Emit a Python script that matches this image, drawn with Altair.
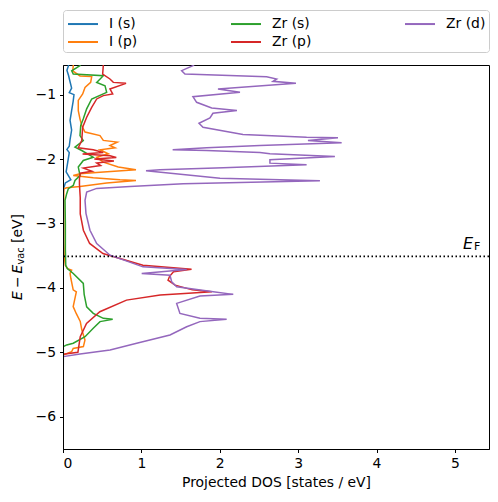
import altair as alt
import pandas as pd

# ---- data (energy in eV relative to vacuum, projected DOS in states/eV) ----
is_E = [-0.50, -0.55, -0.62, -0.70, -0.80, -0.90, -0.97, -1.00, -1.10, -1.25, -1.40, -1.55, -1.70,
        -1.80, -1.85, -1.90, -2.05, -2.20, -2.28, -2.32, -2.37, -2.45, -2.55, -6.60]
is_D = [0.07, 0.07, 0.05, 0.07, 0.09, 0.11, 0.08, 0.14, 0.13, 0.11, 0.09, 0.11, 0.09,
        0.08, 0.05, 0.08, 0.06, 0.04, 0.08, 0.10, 0.03, 0.01, 0.0, 0.0]

ip_E = [-0.50, -0.55, -0.63, -0.71, -0.72, -0.81, -0.89, -0.99, -1.09, -1.25, -1.38, -1.48, -1.58,
        -1.635, -1.71, -1.737, -1.79, -1.825, -1.856, -1.918, -1.971, -2.047, -2.124, -2.164,
        -2.203, -2.228, -2.254, -2.289, -2.320, -2.331, -2.372, -2.424, -2.444, -2.46, -2.7,
        -3.0, -3.3, -3.5, -3.65, -3.70, -3.724, -3.775, -3.85, -4.03, -4.06, -4.29, -4.40,
        -4.52, -4.65, -4.81, -4.91, -4.94, -4.99, -5.04, -6.60]
ip_D = [0.13, 0.131, 0.124, 0.217, 0.366, 0.353, 0.281, 0.251, 0.195, 0.195, 0.217, 0.239, 0.281,
        0.472, 0.514, 0.693, 0.599, 0.663, 0.472, 0.578, 0.430, 0.514, 0.705, 0.931,
        0.472, 0.217, 0.131, 0.386, 0.727, 0.931, 0.557, 0.217, 0.047, 0.01, 0.01,
        0.01, 0.01, 0.015, 0.03, 0.06, 0.11, 0.09, 0.10, 0.13, 0.17, 0.13, 0.17,
        0.22, 0.24, 0.28, 0.26, 0.13, 0.11, 0.0, 0.0]

zs_E = [-0.50, -0.55, -0.63, -0.68, -0.706, -0.81, -0.861, -0.964, -1.067, -1.221, -1.376, -1.48,
        -1.635, -1.712, -1.816, -1.867, -1.971, -2.022, -2.124, -2.254, -2.331, -2.409, -2.46,
        -2.537, -2.641, -3.0, -3.4, -3.65, -3.698, -3.776, -3.93, -4.10, -4.293, -4.395, -4.472,
        -4.488, -4.523, -4.627, -4.757, -4.859, -4.885, -4.91, -6.60]
zs_D = [0.22, 0.217, 0.111, 0.131, 0.514, 0.430, 0.536, 0.557, 0.366, 0.302, 0.259, 0.226,
        0.217, 0.259, 0.153, 0.239, 0.386, 0.259, 0.195, 0.217, 0.153, 0.131, 0.068,
        0.047, 0.026, 0.03, 0.03, 0.035, 0.055, 0.131, 0.259, 0.27, 0.302, 0.386, 0.514,
        0.634, 0.472, 0.386, 0.281, 0.131, 0.047, 0.004, 0.0]

zp_E = [-0.50, -0.55, -0.68, -0.757, -0.81, -0.825, -0.912, -0.989, -1.015, -1.067, -1.197, -1.351,
        -1.506, -1.712, -1.825, -1.856, -1.898, -1.92, -1.95, -1.975, -2.00, -2.03, -2.06, -2.10,
        -2.14, -2.19, -2.22, -2.30, -2.40, -2.60, -2.85, -3.105, -3.31, -3.466, -3.647, -3.709,
        -3.75, -3.82, -3.879, -3.957, -4.03, -4.06, -4.09, -4.111, -4.189, -4.37, -4.55, -4.757,
        -4.96, -5.00, -5.03, -6.60]
zp_D = [0.51, 0.514, 0.506, 0.599, 0.642, 0.804, 0.599, 0.634, 0.514, 0.430, 0.366, 0.302,
        0.251, 0.239, 0.195, 0.386, 0.514, 0.25, 0.60, 0.68, 0.40, 0.65, 0.43, 0.48,
        0.26, 0.37, 0.22, 0.21, 0.21, 0.22, 0.22, 0.26, 0.34, 0.51, 1.02, 1.64,
        1.41, 1.36, 1.34, 1.43, 1.65, 1.90, 1.50, 1.24, 0.81, 0.47, 0.30, 0.22,
        0.195, 0.19, 0.0, 0.0]

zd_E = [-0.50, -0.551, -0.628, -0.680, -0.721, -0.757, -0.794, -0.825, -0.912, -0.964, -1.031,
        -1.119, -1.206, -1.248, -1.289, -1.361, -1.444, -1.506, -1.619, -1.661, -1.670, -1.712,
        -1.748, -1.789, -1.825, -1.856, -1.867, -1.898, -1.918, -1.960, -2.011, -2.063, -2.088,
        -2.135, -2.166, -2.181, -2.296, -2.336, -2.382, -2.424, -2.455, -2.512, -2.641, -2.842,
        -3.105, -3.311, -3.492, -3.673, -3.714, -3.776, -3.802, -3.906, -3.981, -4.059, -4.100,
        -4.127, -4.240, -4.395, -4.472, -4.488, -4.523, -4.602, -4.730, -4.858, -4.963, -5.025,
        -5.066, -6.60]
zd_D = [1.70, 1.658, 1.514, 1.556, 2.598, 2.726, 2.679, 2.972, 1.977, 2.258, 1.658,
        1.705, 1.897, 2.219, 1.913, 1.875, 1.735, 1.786, 2.296, 3.108, 3.508, 3.125,
        3.555, 2.513, 1.833, 1.399, 1.833, 2.513, 2.640, 3.469, 2.640, 2.640, 3.108,
        2.045, 1.237, 1.059, 2.003, 3.278, 1.534, 0.855, 0.430, 0.302, 0.281, 0.293,
        0.344, 0.430, 0.600, 1.020, 1.578, 1.004, 1.365, 1.387, 1.450, 1.917, 2.172,
        1.747, 1.450, 1.492, 1.747, 2.088, 1.747, 1.578, 1.365, 0.940, 0.600, 0.217,
        0.004, 0.0]

series_names = ["I (s)", "I (p)", "Zr (s)", "Zr (p)", "Zr (d)"]
series_colors = ["#1f77b4", "#ff7f0e", "#2ca02c", "#d62728", "#9467bd"]
series_E = [is_E, ip_E, zs_E, zp_E, zd_E]
series_D = [is_D, ip_D, zs_D, zp_D, zd_D]

fermi_level = [-3.51]
x_ticks = [0, 1, 2, 3, 4, 5]
y_ticks = [-1, -2, -3, -4, -5, -6]

rows = []
for name, es, ds in zip(series_names, series_E, series_D):
    for i, (e, d) in enumerate(zip(es, ds)):
        rows.append({"series": name, "E": e, "DOS": d, "idx": i})
df = pd.DataFrame(rows)

FONT = "DejaVu Sans"
FS = 13.9

lines = alt.Chart(df).mark_line(strokeWidth=1.5, clip=True).encode(
    x=alt.X("DOS:Q",
            scale=alt.Scale(domain=[0, 5.435], nice=False, zero=False),
            axis=alt.Axis(values=x_ticks, format="d", title="Projected DOS [states / eV]",
                          zindex=1, labelPadding=4, titlePadding=5)),
    y=alt.Y("E:Q",
            scale=alt.Scale(domain=[-6.5, -0.54], nice=False, zero=False),
            axis=alt.Axis(values=y_ticks, format="d", title=None, zindex=1, labelPadding=4)),
    color=alt.Color("series:N",
                    scale=alt.Scale(domain=series_names, range=series_colors),
                    legend=alt.Legend(title=None, orient="none", legendX=0, legendY=-55,
                                      columns=3, symbolType="M-0.9,0H2.1", symbolSize=400,
                                      symbolStrokeWidth=2, labelFont=FONT, labelFontSize=FS,
                                      labelColor="black",
                                      labelOffset=21, columnPadding=89, rowPadding=0,
                                      padding=3, strokeColor="#cccccc", fillColor="white",
                                      cornerRadius=3)),
    order="idx:Q",
)

rule = alt.Chart(pd.DataFrame({"E": fermi_level})).mark_rule(
    color="black", strokeWidth=1.8, strokeDash=[1.5, 2.5]).encode(y="E:Q")


def label(txt, x, y, size=FS, style="normal", angle=0, baseline="middle"):
    return alt.Chart(pd.DataFrame({"t": [txt]})).mark_text(
        align="left", baseline=baseline, font=FONT, fontSize=size, fontStyle=style,
        angle=angle, color="black").encode(x=alt.value(x), y=alt.value(y), text="t:N")


texts = [
    label("E", -45, 235, style="italic", angle=270),
    label("−", -45, 223, angle=270),
    label("E", -45, 208.5, style="italic", angle=270),
    label("vac", -42, 199.5, size=9.7, angle=270),
    label("[eV]", -45, 178, angle=270),
    label("E", 400, 184, size=16, style="italic", baseline="alphabetic"),
    label("F", 411, 185, size=11, baseline="alphabetic"),
]

chart = alt.layer(lines, rule, *texts).properties(
    width=426, height=384,
    autosize=alt.AutoSizeParams(type="none"),
    padding={"left": 55, "top": 57, "right": 1, "bottom": 45},
).configure_view(stroke="black", strokeWidth=1).configure_axis(
    grid=False, domainColor="black", tickColor="black", labelColor="black",
    titleColor="black", labelFont=FONT, labelFontSize=FS, titleFont=FONT,
    titleFontSize=FS, titleFontWeight="normal", tickSize=3.5, domainWidth=1, tickWidth=1,
)

chart.save("out.html", embed_options={"renderer": "svg", "actions": False})
